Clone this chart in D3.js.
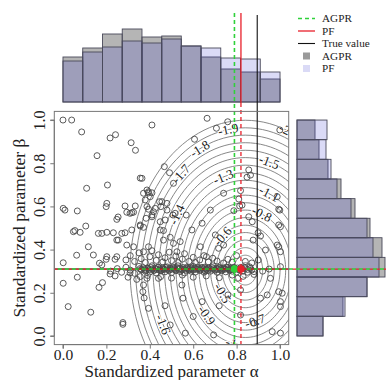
<!DOCTYPE html>
<html><head><meta charset="utf-8">
<script src="https://cdn.jsdelivr.net/npm/d3@7"></script>
<style>body{margin:0;background:#fff} svg{display:block} text{font-family:"Liberation Serif","Times New Roman",serif}</style>
</head><body><svg id="c" width="391" height="380"></svg>
<script>
// ---------- data ----------
const tickValues = [0, 0.2, 0.4, 0.6, 0.8, 1.0];
const tickLabels = ["0.0", "0.2", "0.4", "0.6", "0.8", "1.0"];
const binEdges = [0, 0.091, 0.182, 0.273, 0.364, 0.455, 0.545, 0.636, 0.727, 0.818, 0.909, 1.0];
const histAlphaAGPR = [45, 54, 68, 73, 65, 66, 56, 45, 33, 30, 23];
const histAlphaPF   = [41, 50, 55, 61, 59, 63, 56, 54, 44, 43, 30];
const histBetaAGPR  = [26, 46, 70, 88, 85, 73, 58, 44, 31, 22, 18];
const histBetaPF    = [26, 48, 70, 82, 76, 70, 54, 40, 34, 29, 30];
const refNames = ["AGPR", "PF", "True value"];
const refAlpha = [0.79, 0.82, 0.895];
const refBeta  = [0.31, 0.31, 0.31];
const contourCenter = [0.84, 0.305];
const contourLevels = [-0.1,-0.2,-0.3,-0.4,-0.5,-0.6,-0.7,-0.8,-0.9,-1,-1.1,-1.2,-1.3,-1.4,-1.5,-1.6,-1.7,-1.8,-1.9,-2];
const contourRx = [0.027,0.053,0.080,0.106,0.133,0.160,0.186,0.213,0.239,0.266,0.292,0.319,0.346,0.372,0.399,0.425,0.452,0.478,0.505,0.531];
const contourRy = [0.035,0.069,0.104,0.139,0.174,0.208,0.243,0.278,0.312,0.347,0.382,0.416,0.451,0.486,0.521,0.555,0.590,0.625,0.659,0.694];
const labelLevels = [-2,-1.9,-1.8,-1.7,-1.6,-1.5,-1.4,-1.3,-1.1,-1,-0.9,-0.8,-0.7,-0.6,-0.5];
const labelTexts  = ["-2","-1.9","-1.8","-1.7","-1.6","-1.5","-1.4","-1.3","-1.1","-1","-0.9","-0.8","-0.7","-0.6","-0.5"];
const labelAngles = [70, 99, 116, 131, 207, 74, 148, 107, 68, 256, 222, 69, 284, 131, 218];
const pointsScattered = [
 [0.00,1.00],[0.04,1.00],[0.086,0.945],[0.217,0.917],[0.242,0.932],[0.314,0.895],[0.334,0.860],[0.157,0.835],
 [0.109,0.684],[0.205,0.699],[0.356,0.731],[0.001,0.591],[0.009,0.583],[0.066,0.579],[0.202,0.614],[0.199,0.599],
 [0.248,0.540],[0.254,0.551],[0.286,0.602],[0.333,0.602],[0.309,0.568],[0.317,0.571],[0.387,0.599],[0.105,0.509],
 [0.048,0.483],[0.055,0.488],[0.079,0.480],[0.163,0.475],[0.179,0.475],[0.202,0.480],[0.232,0.478],[0.248,0.444],
 [0.255,0.444],[0.286,0.478],[0.063,0.374],[0.117,0.413],[0.140,0.375],[0.202,0.367],[0.248,0.367],[0.356,0.509],
 [0.393,0.662],[0.387,0.676],[0.001,0.339],[0.168,0.337],[0.179,0.329],[0.199,0.355],[0.240,0.355],[0.001,0.244],
 [0.066,0.272],[0.182,0.247],[0.166,0.225],[0.024,0.136],[0.128,0.110],[0.276,0.062],[0.217,0.287],[0.240,0.278],
 [0.309,0.292],[0.356,0.275],[0.387,0.267],[0.440,0.267],[0.371,0.236],[0.368,0.205],[0.374,0.176],[0.394,0.128],
 [0.548,0.236],[0.553,0.175],[0.641,0.159],[0.276,0.054],[0.564,0.013],[0.494,0.051],[0.717,0.406],[0.661,0.367],
 [0.805,0.267],[0.956,0.267],[1.002,0.321],[0.994,0.413],[0.818,0.213],[0.910,0.175],[0.941,0.190],[0.994,0.205],
 [1.010,0.198],[1.002,0.159],[1.002,0.136],[0.964,0.020],[1.002,0.013],[0.694,0.005],[0.818,0.097],[0.410,0.977],
 [0.664,1.008],[0.707,0.962],[0.759,0.992],[0.606,0.911],[0.999,0.954],[0.467,0.784],[0.491,0.756],[0.364,0.730],
 [0.856,0.769],[0.864,0.745],[0.848,0.735],[0.818,0.673],[0.810,0.634],[0.814,0.602],[0.787,0.580],[0.987,0.645],
 [0.994,0.587],[0.394,0.668],[0.402,0.645],[0.379,0.630],[0.445,0.622],[0.425,0.591],[0.479,0.583],[0.507,0.560],
 [0.410,0.560],[0.383,0.545],[0.471,0.537],[0.568,0.560],[0.641,0.522],[0.856,0.552],[0.899,0.478],[1.002,0.506],
 [1.002,0.390],[0.933,0.398],[0.448,0.491],[0.463,0.444],[0.509,0.429],[0.525,0.390],[0.394,0.413],[0.371,0.390],
 [0.633,0.413],[0.702,0.468],[0.999,0.583],[0.994,0.514],[0.679,0.583],[0.740,0.661],[0.825,0.606],[0.872,0.529],
 [0.910,0.463],[0.876,0.444],[0.987,0.421],[0.740,0.421],[0.509,0.707],[0.410,0.663],[0.371,0.661],[0.294,0.573],
 [0.325,0.573],[0.394,0.587],[0.417,0.575],[0.456,0.622],[0.479,0.614],[0.451,0.599],[0.517,0.568],[0.356,0.514],
 [0.371,0.503],[0.271,0.475],[0.317,0.491],[0.410,0.552],[0.448,0.529],[0.463,0.488],[0.494,0.457],[0.594,0.491],
 [0.540,0.437],[0.294,0.421],[0.325,0.413],[0.720,0.140],[0.600,0.090],[0.470,0.140],[0.880,0.060],[0.760,0.190]
];
const pointsBand = [
 [0.22,0.300],[0.25,0.312],[0.27,0.295],[0.29,0.318],[0.31,0.305],[0.33,0.290],[0.35,0.322],[0.36,0.308],
 [0.38,0.300],[0.39,0.315],[0.40,0.296],[0.41,0.325],[0.42,0.305],[0.43,0.292],[0.44,0.318],[0.45,0.302],
 [0.46,0.310],[0.47,0.297],[0.48,0.320],[0.49,0.305],[0.50,0.293],[0.51,0.315],[0.52,0.302],[0.53,0.325],
 [0.54,0.298],[0.55,0.310],[0.56,0.292],[0.57,0.318],[0.58,0.305],[0.59,0.300],[0.60,0.322],[0.61,0.296],
 [0.62,0.310],[0.63,0.303],[0.64,0.318],[0.65,0.295],[0.66,0.308],[0.67,0.315],[0.68,0.300],[0.69,0.325],
 [0.70,0.305],[0.71,0.295],[0.72,0.315],[0.73,0.302],[0.74,0.310],[0.75,0.297],[0.76,0.318],[0.77,0.305],
 [0.78,0.300],[0.79,0.315],[0.80,0.296],[0.81,0.308],[0.82,0.318],[0.83,0.300],[0.84,0.312],[0.85,0.295],
 [0.86,0.320],[0.87,0.305],[0.88,0.298],[0.445,0.305],[0.515,0.308],[0.585,0.312],[0.655,0.300],[0.725,0.308],
 [0.29,0.352],[0.31,0.372],[0.33,0.345],[0.35,0.385],[0.36,0.358],[0.38,0.340],[0.40,0.367],[0.41,0.395],
 [0.43,0.350],[0.44,0.376],[0.46,0.343],[0.47,0.362],[0.49,0.388],[0.50,0.349],[0.52,0.370],[0.53,0.340],
 [0.55,0.356],[0.56,0.381],[0.58,0.345],[0.60,0.364],[0.61,0.340],[0.63,0.352],[0.65,0.372],[0.67,0.343],
 [0.69,0.360],[0.71,0.347],[0.74,0.338],[0.76,0.355],[0.78,0.342],[0.80,0.372],[0.84,0.345],[0.87,0.338],
 [0.90,0.352],[0.30,0.272],[0.34,0.262],[0.39,0.280],[0.45,0.275],[0.50,0.268],[0.55,0.282],[0.60,0.272],
 [0.66,0.278],[0.72,0.270],[0.78,0.282],[0.83,0.276],[0.88,0.285],[0.92,0.300],[0.95,0.310]
];
const pointsBandCore = [
 [0.355,0.312],[0.362,0.306],[0.370,0.316],[0.377,0.309],[0.384,0.304],[0.392,0.313],[0.398,0.307],[0.405,0.317],
 [0.412,0.310],[0.418,0.303],[0.425,0.314],[0.432,0.308],[0.438,0.319],[0.447,0.311],[0.453,0.305],[0.460,0.315],
 [0.466,0.308],[0.473,0.318],[0.480,0.311],[0.486,0.304],[0.493,0.314],[0.500,0.309],[0.507,0.319],[0.513,0.312],
 [0.520,0.305],[0.527,0.316],[0.533,0.309],[0.540,0.313],[0.547,0.305],[0.553,0.317],[0.560,0.310],[0.567,0.304],
 [0.573,0.314],[0.580,0.308],[0.587,0.318],[0.593,0.311],[0.600,0.305],[0.607,0.315],[0.613,0.309],[0.620,0.319],
 [0.627,0.312],[0.633,0.306],[0.640,0.314],[0.647,0.309],[0.653,0.318],[0.660,0.311],[0.667,0.304],[0.673,0.315],
 [0.680,0.309],[0.687,0.317],[0.693,0.311],[0.700,0.305],[0.707,0.314],[0.713,0.308],[0.720,0.318],[0.727,0.312],
 [0.733,0.305],[0.740,0.315],[0.747,0.309],[0.753,0.319],[0.760,0.311],[0.767,0.305],[0.773,0.314],[0.780,0.309],
 [0.787,0.318],[0.795,0.310],[0.803,0.315],[0.812,0.306],[0.825,0.312],[0.838,0.318],[0.850,0.308],[0.864,0.313]
];
const legendLabels = ["AGPR", "PF", "True value", "AGPR", "PF"];

// ---------- drawing ----------
const svg = d3.select("#c");
const serif = '"Liberation Serif","Times New Roman",serif';
const x = d3.scaleLinear().domain([-0.04, 1.04]).range([54.3, 288.7]);
const y = d3.scaleLinear().domain([-0.04, 1.04]).range([344.6, 111.4]);
const hTop = d3.scaleLinear().domain([0, 100]).range([102, 2]);
const hRight = d3.scaleLinear().domain([0, 100]).range([297, 397]);

const colGreen = "#2fd13a", colRed = "#e8202a", colBlack = "#111";
const agprFill = "rgb(120,120,120)", agprOp = 0.55;
const pfFill = "rgb(70,70,210)", pfOp = 0.2;
const barStroke = "#4a4a5a";

svg.append("defs").append("clipPath").attr("id", "clipMain")
  .append("rect").attr("x", x(-0.04)).attr("y", y(1.04))
  .attr("width", x(1.04) - x(-0.04)).attr("height", y(-0.04) - y(1.04));

// ---- top histogram ----
const gTop = svg.append("g");
const drawTop = (counts, fill, op) => gTop.append("g").selectAll("rect").data(counts).join("rect")
  .attr("x", (d, i) => x(binEdges[i])).attr("width", (d, i) => x(binEdges[i + 1]) - x(binEdges[i]))
  .attr("y", d => hTop(d)).attr("height", d => hTop(0) - hTop(d))
  .attr("fill", fill).attr("fill-opacity", op).attr("stroke", barStroke).attr("stroke-width", 0.9);
drawTop(histAlphaAGPR, agprFill, agprOp);
drawTop(histAlphaPF, pfFill, pfOp);

// ---- right histogram ----
const gRight = svg.append("g");
const drawRight = (counts, fill, op) => gRight.append("g").selectAll("rect").data(counts).join("rect")
  .attr("y", (d, i) => y(binEdges[i + 1])).attr("height", (d, i) => y(binEdges[i]) - y(binEdges[i + 1]))
  .attr("x", hRight(0)).attr("width", d => hRight(d) - hRight(0))
  .attr("fill", fill).attr("fill-opacity", op).attr("stroke", barStroke).attr("stroke-width", 0.9);
drawRight(histBetaAGPR, agprFill, agprOp);
drawRight(histBetaPF, pfFill, pfOp);

// ---- contours ----
const gMain = svg.append("g").attr("clip-path", "url(#clipMain)");
const ellipsePts = (rx, ry) => d3.range(0, 361, 3).map(a => {
  const t = a * Math.PI / 180;
  return [contourCenter[0] + rx * Math.cos(t), contourCenter[1] + ry * Math.sin(t)];
});
const line = d3.line().x(d => x(d[0])).y(d => y(d[1]));
gMain.selectAll("path.ct").data(contourLevels).join("path").attr("class", "ct")
  .attr("d", (d, i) => line(ellipsePts(contourRx[i], contourRy[i])))
  .attr("fill", "none").attr("stroke", "#7a7a7a").attr("stroke-width", 0.9);

labelLevels.forEach((lv, k) => {
  const i = contourLevels.indexOf(lv);
  const t = labelAngles[k] * Math.PI / 180;
  const px = x(contourCenter[0] + contourRx[i] * Math.cos(t));
  const py = y(contourCenter[1] + contourRy[i] * Math.sin(t));
  const dx = -(x(contourRx[i]) - x(0)) * Math.sin(t);
  const dy = -(y(0) - y(contourRy[i])) * Math.cos(t);
  let ang = Math.atan2(dy, dx) * 180 / Math.PI;
  if (ang > 90) ang -= 180; if (ang < -90) ang += 180;
  gMain.append("text").attr("transform", `translate(${px},${py}) rotate(${ang})`)
    .attr("text-anchor", "middle").attr("dy", "0.33em")
    .attr("font-size", 13).attr("fill", "#1a1a1a")
    .attr("stroke", "#fff").attr("stroke-width", 2.5).attr("paint-order", "stroke")
    .text(labelTexts[k]);
});

// ---- scatter ----
gMain.append("g").selectAll("circle").data(pointsScattered.concat(pointsBand, pointsBandCore)).join("circle")
  .attr("cx", d => x(d[0])).attr("cy", d => y(d[1])).attr("r", 3)
  .attr("fill", "none").attr("stroke", "#4a4a4a").attr("stroke-width", 0.9);

// ---- reference lines ----
const yTopLine = hTop(0) + 1;
svg.append("line").attr("x1", x(refAlpha[2])).attr("x2", x(refAlpha[2])).attr("y1", 15).attr("y2", y(-0.04))
  .attr("stroke", colBlack).attr("stroke-width", 1.1);
svg.append("line").attr("x1", x(refAlpha[1])).attr("x2", x(refAlpha[1])).attr("y1", 13).attr("y2", yTopLine)
  .attr("stroke", colRed).attr("stroke-width", 1.3);
svg.append("line").attr("x1", x(refAlpha[1])).attr("x2", x(refAlpha[1])).attr("y1", yTopLine).attr("y2", y(-0.04))
  .attr("stroke", colRed).attr("stroke-width", 1.3).attr("stroke-dasharray", "4,3");
svg.append("line").attr("x1", x(refAlpha[0])).attr("x2", x(refAlpha[0])).attr("y1", 13).attr("y2", y(-0.04))
  .attr("stroke", colGreen).attr("stroke-width", 1.6).attr("stroke-dasharray", "4,3");
svg.append("line").attr("x1", x(-0.04)).attr("x2", x(1.04)).attr("y1", y(refBeta[2])).attr("y2", y(refBeta[2]))
  .attr("stroke", colBlack).attr("stroke-width", 1.1);
svg.append("line").attr("x1", x(-0.04)).attr("x2", 386).attr("y1", y(refBeta[1])).attr("y2", y(refBeta[1]))
  .attr("stroke", colRed).attr("stroke-width", 1.3).attr("stroke-dasharray", "4,3");
svg.append("line").attr("x1", x(-0.04)).attr("x2", 386).attr("y1", y(refBeta[0])).attr("y2", y(refBeta[0]))
  .attr("stroke", colGreen).attr("stroke-width", 1.6).attr("stroke-dasharray", "4,3").attr("stroke-dashoffset", 3.5);

svg.append("circle").attr("cx", x(refAlpha[0])).attr("cy", y(refBeta[0])).attr("r", 3.8).attr("fill", colGreen);
svg.append("circle").attr("cx", x(refAlpha[1])).attr("cy", y(refBeta[1])).attr("r", 3.8).attr("fill", colRed);

// ---- box & axes ----
svg.append("rect").attr("x", x(-0.04)).attr("y", y(1.04)).attr("width", x(1.04) - x(-0.04)).attr("height", y(-0.04) - y(1.04))
  .attr("fill", "none").attr("stroke", "#777").attr("stroke-width", 1);

const xAxis = d3.axisBottom(x).tickValues(tickValues).tickFormat((d, i) => tickLabels[i]).tickSize(4).tickPadding(0);
const gx = svg.append("g").attr("transform", `translate(0,${y(-0.04)})`).call(xAxis);
gx.select(".domain").attr("d", `M${x(0)},4V0H${x(1)}V4`).attr("stroke", "#777");
gx.selectAll(".tick line").attr("stroke", "#777");
gx.selectAll("text").attr("font-family", serif).attr("font-size", 15.5).attr("fill", "#222");

const yAxis = d3.axisLeft(y).tickValues(tickValues).tickFormat((d, i) => tickLabels[i]).tickSize(4);
const gy = svg.append("g").attr("transform", `translate(${x(-0.04)},0)`).call(yAxis);
gy.select(".domain").attr("d", `M-4,${y(0)}H0V${y(1)}H-4`).attr("stroke", "#777");
gy.selectAll(".tick line").attr("stroke", "#777");
gy.selectAll("text").attr("font-family", serif).attr("font-size", 16).attr("fill", "#222")
  .attr("x", null).attr("dy", null)
  .attr("transform", "translate(-9,0) rotate(-90)").attr("text-anchor", "middle").attr("y", 0);

svg.append("text").attr("x", (x(0) + x(1)) / 2).attr("y", 376.5).attr("text-anchor", "middle")
  .attr("font-size", 17).attr("fill", "#222").text("Standardized parameter α");
svg.append("text").attr("transform", `translate(25,${(y(0) + y(1)) / 2}) rotate(-90)`).attr("text-anchor", "middle")
  .attr("font-size", 17.5).attr("fill", "#222").text("Standardized parameter β");

// ---- legend ----
const legY = [18.5, 31, 43.5, 56, 68.5];
const lg = svg.append("g");
lg.append("line").attr("x1", 298).attr("x2", 315).attr("y1", legY[0]).attr("y2", legY[0])
  .attr("stroke", colGreen).attr("stroke-width", 1.6).attr("stroke-dasharray", "4,3");
lg.append("line").attr("x1", 298).attr("x2", 315).attr("y1", legY[1]).attr("y2", legY[1])
  .attr("stroke", colRed).attr("stroke-width", 1.3);
lg.append("line").attr("x1", 298).attr("x2", 315).attr("y1", legY[2]).attr("y2", legY[2])
  .attr("stroke", colBlack).attr("stroke-width", 1.1);
lg.append("rect").attr("x", 303).attr("y", legY[3] - 3.5).attr("width", 7).attr("height", 7)
  .attr("fill", agprFill).attr("fill-opacity", 0.75);
lg.append("rect").attr("x", 303).attr("y", legY[4] - 3.5).attr("width", 7).attr("height", 7)
  .attr("fill", pfFill).attr("fill-opacity", pfOp);
lg.selectAll("text").data(legendLabels).join("text")
  .attr("x", 322).attr("y", (d, i) => legY[i]).attr("dy", "0.33em")
  .attr("font-size", 11.2).attr("fill", "#222").text(d => d);
</script></body></html>
